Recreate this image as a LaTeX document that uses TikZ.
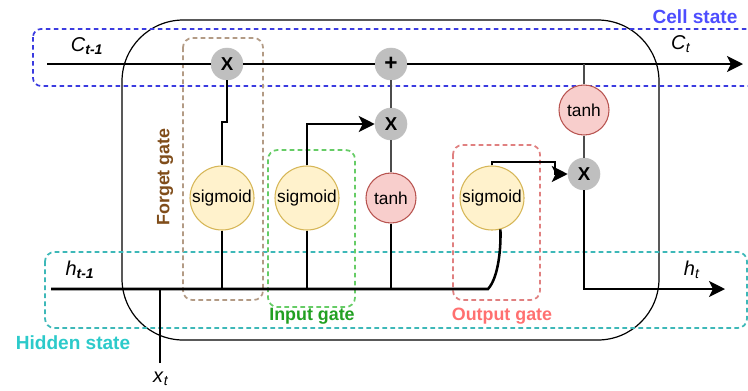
\documentclass[tikz,border=0pt]{standalone}
\usepackage{fontspec}
\setmainfont{Liberation Sans}
\usetikzlibrary{arrows.meta}
\definecolor{sigF}{HTML}{FFF2CC}
\definecolor{sigB}{HTML}{D6B656}
\definecolor{tanF}{HTML}{F8CECC}
\definecolor{tanB}{HTML}{B85450}
\definecolor{opF}{HTML}{BFBFBF}
\definecolor{cellB}{HTML}{3B3BE0}
\definecolor{cellT}{HTML}{4D4DFF}
\definecolor{forB}{HTML}{B39B85}
\definecolor{forT}{HTML}{804D1A}
\definecolor{inB}{HTML}{66CC66}
\definecolor{inT}{HTML}{22A022}
\definecolor{outB}{HTML}{E08080}
\definecolor{outT}{HTML}{FF7070}
\definecolor{hidB}{HTML}{3DB8B8}
\definecolor{hidT}{HTML}{2CCACA}
\begin{document}
\begin{tikzpicture}[x=0.75pt,y=-0.75pt,
  sig/.style={circle, draw=sigB, fill=sigF, line width=0.8pt, minimum size=48pt, inner sep=0pt, font=\fontsize{13}{15}\selectfont},
  tnh/.style={circle, draw=tanB, fill=tanF, line width=0.8pt, minimum size=37.5pt, inner sep=0pt, font=\fontsize{13}{15}\selectfont},
  opc/.style={circle, fill=opF, draw=opF, minimum size=24pt, inner sep=0pt, font=\bfseries\fontsize{14}{15}\selectfont},
  wire/.style={line width=1.9pt, draw=black},
  link/.style={line width=0.9pt, draw=black!70},
  arr/.style={-{Stealth[length=12pt,width=12pt,inset=3pt]}},
  gbox/.style={line width=1.3pt, dash pattern=on 3.5pt off 2.5pt, rounded corners=7pt},
  glabel/.style={font=\bfseries\fontsize{13.4}{15}\selectfont},
  slabel/.style={font=\bfseries\fontsize{14.3}{16}\selectfont},
  vlabel/.style={font=\fontsize{15}{17}\selectfont}
]
\clip (0,0) rectangle (748,390);
% main cell
\draw[line width=0.9pt, rounded corners=46pt] (122,20) -- (659,20) -- (659,340) -- (122,340) -- cycle;
% state boxes
\draw[gbox, draw=cellB, rounded corners=6pt] (33,29) rectangle (770,86);
\draw[gbox, draw=hidB, rounded corners=7pt] (45,252) rectangle (747,328);
% gate boxes
\draw[gbox, draw=forB] (183,38) rectangle (263,300);
\draw[gbox, draw=inB] (268,150) rectangle (355,307);
\draw[gbox, draw=outB] (453,145) rectangle (540,300);
% nodes
\node[opc] (fx) at (227,64) {X};
\node[opc, font=\bfseries\fontsize{17}{17}\selectfont] (plus) at (391,64) {+};
\node[opc] (ix) at (391,124) {X};
\node[opc] (ox) at (584,174) {X};
\node[sig] (fs) at (222,198) {sigmoid};
\node[sig] (is) at (307,198) {sigmoid};
\node[tnh] (it) at (391,198) {tanh};
\node[sig] (os) at (492,198) {sigmoid};
\node[tnh] (ct) at (584,110) {tanh};
% coordinates
\coordinate (cstart) at (47,64);
\coordinate (cend) at (743,64);
\coordinate (hstart) at (51,289);
\coordinate (hend) at (725,289);
\coordinate (hbend) at (488,289);
\coordinate (xin) at (160,363);
\coordinate (fj) at (222,122);
\coordinate (oa) at (492,162);
\coordinate (ob) at (555,162);
\coordinate (oc) at (555,174);
% cell state line
\draw[wire] (cstart) -- (fx);
\draw[wire] (fx) -- (plus);
\draw[wire,arr] (plus) -- (cend);
% hidden line
\draw[wire] (hstart) -- (hbend) .. controls (499,277) and (501,246) .. (os.-75);
\draw[wire] (xin) -- (xin |- hstart);
\draw[wire] (fs.south) -- (fs.south |- hstart);
\draw[wire] (is.south) -- (is.south |- hstart);
\draw[wire] (it.south) -- (it.south |- hstart);
% forget gate
\draw[wire] (fx.south) |- (fj) -- (fs.north);
% input gate
\draw[wire,arr] (is.north) |- (ix.west);
\draw[link] (plus) -- (ix);
\draw[link] (ix) -- (it);
% output gate
\draw[wire,arr] (os.north) -- (oa) -- (ob) -- (oc) -- (ox.west);
\draw[link] (ct.north) -- (ct.north |- cstart);
\draw[link] (ct) -- (ox);
\draw[wire,arr] (ox.south) |- (hend);
% labels
\node[vlabel] (lc0) at (87,46) {\textit{C}\textsubscript{\textbf{\textit{t-1}}}};
\node[vlabel] (lc1) at (681,44) {\textit{C}\textsubscript{\textit{t}}};
\node[vlabel] (lh0) at (80,270) {\textit{h}\textsubscript{\textbf{\textit{t-1}}}};
\node[vlabel] (lh1) at (692,270) {\textit{h}\textsubscript{\textit{t}}};
\node[vlabel] (lx) at (161,379) {\textit{x}\textsubscript{\textit{t}}};
\node[slabel, text=cellT] (lcell) at (695,17) {Cell state};
\node[slabel, text=hidT] (lhid) at (73,343) {Hidden state};
\node[glabel, text=forT, rotate=90] (lfor) at (165,177) {Forget gate};
\node[glabel, text=inT] (lin) at (312,316) {Input gate};
\node[glabel, text=outT] (lout) at (502,316) {Output gate};
\end{tikzpicture}
\end{document}
